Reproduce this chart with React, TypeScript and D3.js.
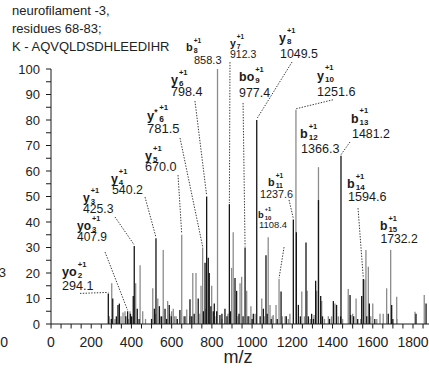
import React from "react";
import * as d3 from "d3";

const titleLines = ["neurofilament -3,", "residues 68-83;", "K - AQVQLDSDHLEEDIHR"];

// m/z , relative intensity (%)
const grayPeaks: [number, number][] = [
  [290, 3], [302, 16], [318, 2], [348, 3], [358, 4.5], [368, 5], [385, 2], [393, 5], [421, 16], [443, 23],
  [456, 5], [470, 2], [506, 14], [520, 4], [531, 10], [545, 3], [558, 29], [580, 9], [590, 4], [600, 5],
  [608, 6], [615, 3], [622, 3], [650, 35], [660, 3], [675, 5.7], [690, 3], [705, 20], [721, 20], [740, 4],
  [746, 15], [754, 30], [770, 6], [799, 15], [815, 3], [828, 100], [850, 2], [880, 4], [898, 22], [906, 36],
  [930, 3], [940, 16], [948, 18.5], [973, 13], [985, 3], [994, 7], [1015, 4], [1048, 10], [1060, 3], [1080, 34],
  [1089, 7.5], [1100, 3], [1105, 3.5], [1119, 7.5], [1134, 17.6], [1150, 3], [1164, 3], [1180, 2], [1188, 4], [1218, 84],
  [1247, 12.7], [1260, 3], [1274, 13], [1290, 2], [1308, 3.5], [1321, 13], [1330, 61.5], [1346, 9], [1360, 2], [1379, 3],
  [1395, 3], [1412, 8], [1429, 3], [1450, 2], [1478, 13.7], [1500, 4], [1517, 10], [1540, 2], [1561, 17.5], [1566, 29],
  [1578, 22.5], [1590, 3], [1600, 8], [1620, 2], [1636, 4], [1652, 4], [1669, 14], [1689, 29], [1719, 10.7], [1720, 2],
  [1810, 4.8], [1856, 11.4],
];

const blackPeaks: [number, number][] = [
  [285, 12], [300, 2], [307, 10], [325, 3], [333, 7.5], [340, 8], [372, 3], [381, 5], [395, 4], [401, 3],
  [409, 11], [414, 30.6], [429, 6], [438, 2], [500, 2], [514, 6], [522, 33.6], [539, 7], [550, 3], [567, 6],
  [575, 2], [588, 7.5], [598, 3], [628, 2], [641, 5.5], [666, 3], [691, 9.7], [700, 3], [712, 4], [732, 10],
  [758, 5], [766, 24], [774, 50], [782, 26], [787, 20], [795, 7], [807, 5], [812, 8], [824, 5], [840, 3.5],
  [850, 4], [865, 6], [875, 3], [887, 47], [892, 5], [915, 18], [923, 13], [935, 4], [955, 3], [965, 30],
  [980, 3], [1000, 2], [1006, 4], [1023, 80], [1040, 3], [1056, 6], [1069, 27], [1075, 4], [1095, 2], [1125, 2],
  [1144, 12.7], [1170, 3], [1205, 41], [1220, 36], [1230, 7.5], [1240, 3], [1268, 32], [1280, 3], [1296, 4], [1305, 2],
  [1316, 17], [1330, 48.6], [1341, 11], [1350, 3], [1385, 2], [1404, 9], [1420, 7.5], [1440, 3], [1442, 66], [1487, 11.4],
  [1490, 3.5], [1505, 3], [1525, 2], [1545, 11], [1553, 17.6], [1570, 3], [1583, 8], [1610, 2], [1677, 4], [1694, 7.5],
  [1700, 2], [1815, 4], [1865, 8],
];

// annotated fragment ions: name, subscript, charge, printed m/z, peak it points at
const ionNames = ["b", "y", "bo", "y", "y", "b", "b", "b", "b", "b", "b", "y", "y*", "y", "y", "y", "yo", "yo"];
const ionIndex = ["8", "7", "9", "8", "10", "12", "13", "14", "15", "11", "10", "6", "6", "5", "4", "3", "3", "2"];
const ionLabels = ["858.3", "912.3", "977.4", "1049.5", "1251.6", "1366.3", "1481.2", "1594.6", "1732.2", "1237.6",
  "1108.4", "798.4", "781.5", "670.0", "540.2", "425.3", "407.9", "294.1"];
const ionPeakMz = [828, 887, 965, 1023, 1218, 1330, 1442, 1553, 1689, 1205, 1134, 774, 754, 650, 522, 414, 381, 285];
const ionPeakRel = [100, 47, 30, 80, 84, 61.5, 66, 17.6, 29, 41, 17.6, 50, 30, 35, 33.6, 30.6, 5, 12];
const ionCharge = "+1";

// label placement, relative to the peak top (px)
const ionLayout = [
  { dx: -31.5, dy: -18, vdx: 8, vdy: 13, fs: 11 },
  { dx: 0.6, dy: -157, vdx: 0, vdy: 10.5, fs: 10.5, lead: [0.6, -142] },
  { dx: -6, dy: -166.5, vdx: 0, vdy: 16, fs: 12.4, lead: [-2, -144.5] },
  { dx: 22.3, dy: -78, vdx: 1, vdy: 16, fs: 12.4, lead: [35.3, -58] },
  { dx: 21, dy: -30, vdx: 0, vdy: 16, fs: 12.6, lead: [37, -10] },
  { dx: -18.5, dy: -29, vdx: 1, vdy: 15, fs: 12.6 },
  { dx: 10, dy: -33, vdx: 1, vdy: 15, fs: 12.4, lead: [9, -13.7] },
  { dx: -16.3, dy: -91, vdx: 1, vdy: 13, fs: 12.6, lead: [-5.3, -71] },
  { dx: -10.7, dy: -20, vdx: 0.5, vdy: 13, fs: 12.2 },
  { dx: -25.3, dy: -33.5, vdx: -8, vdy: 12, fs: 10.8, lead: [-4.3, -19.5] },
  { dx: -21, dy: -61, vdx: 1, vdy: 10, fs: 9.4, lead: [5, -32] },
  { dx: -35.7, dy: -112.5, vdx: 0, vdy: 12, fs: 12.6, lead: [-11.7, -95.5] },
  { dx: -55.6, dy: -127.5, vdx: 0, vdy: 13, fs: 13, lead: [-22.6, -109.5] },
  { dx: -36.7, dy: -74.7, vdx: 0, vdy: 11, fs: 12.6, lead: [-3.7, -59.7] },
  { dx: -45, dy: -55.3, vdx: 1, vdy: 11, fs: 12.4, lead: [-11, -41.3] },
  { dx: -51.3, dy: -44, vdx: 0, vdy: 11, fs: 12.2, lead: [-19.3, -29] },
  { dx: -50.6, dy: -81.2, vdx: 0, vdy: 11, fs: 12, lead: [-22.6, -59.2] },
  { dx: -46.3, dy: -17.4, vdx: 0, vdy: 14, fs: 12.6, lead: [-28.3, 0] },
];

const xTicks = d3.range(0, 1801, 200);
const xMinor = d3.range(0, 1851, 50);
const yTicks = d3.range(0, 101, 10);
const yMinor = d3.range(0, 101, 5);

const font = "Arial, 'Liberation Sans', Helvetica, sans-serif";
const boldEm: Record<string, number> = { b: 0.611, o: 0.611, y: 0.556 };

export default function App() {
  const W = 429, H = 368;
  const x = d3.scaleLinear().domain([0, 1900]).range([51, 433.1]);
  const y = d3.scaleLinear().domain([0, 100]).range([324, 69]);
  const ink = "#1a1a1a";

  const peak = (p: [number, number], color: string, key: string) => (
    <line key={key} x1={x(p[0])} x2={x(p[0])} y1={y(0)} y2={y(p[1])} stroke={color} strokeWidth={1.3} />
  );

  return (
    <svg width={W} height={H} style={{ position: "absolute", left: 0, top: 0, background: "#fff" }}
      fontFamily={font}>
      {/* title */}
      {titleLines.map((t, i) => (
        <text key={t} x={12} y={15 + i * 18} fontSize={13} fill="#222">{t}</text>
      ))}

      {/* cut-off neighbour panel */}
      <text x={6} y={277} fontSize={13} textAnchor="end" fill="#222">3</text>
      <text x={8} y={347} fontSize={14} textAnchor="end" fill="#222">0</text>

      {/* peaks */}
      <g>{grayPeaks.map((p, i) => peak(p, "#8c8c8c", "g" + i))}</g>
      <g>{blackPeaks.map((p, i) => peak(p, "#151515", "b" + i))}</g>

      {/* y axis */}
      <g stroke={ink} strokeWidth={1}>
        <line x1={x(0)} x2={x(0)} y1={y(0)} y2={y(100)} />
        {yMinor.map(v => <line key={v} x1={x(0) - 5} x2={x(0)} y1={y(v)} y2={y(v)} />)}
      </g>
      {yTicks.map(v => (
        <text key={v} x={40} y={y(v)} dy="0.36em" textAnchor="end" fontSize={13} fill="#222">{v}</text>
      ))}

      {/* x axis */}
      <g stroke={ink} strokeWidth={1}>
        <line x1={x(0)} x2={W} y1={y(0)} y2={y(0)} />
        {xMinor.map(v => <line key={v} x1={x(v)} x2={x(v)} y1={y(0)} y2={y(0) + 4.5} />)}
      </g>
      {xTicks.map(v => (
        <text key={v} x={x(v)} y={347} textAnchor="middle" fontSize={14} fill="#222">{v}</text>
      ))}
      <text x={238} y={363} textAnchor="middle" fontSize={18} fill="#222">m/z</text>

      {/* ion annotations */}
      {ionNames.map((name, i) => {
        const L = ionLayout[i];
        const px = x(ionPeakMz[i]), py = y(ionPeakRel[i]);
        const nx = px + L.dx, ny = py + L.dy;
        const fs = L.fs;
        const star = name.endsWith("*");
        const base = star ? name.slice(0, -1) : name;
        let w = 0;
        for (const c of base) w += (boldEm[c] || 0.6) * fs;
        if (star) w += fs * 0.3;
        const sx = nx + w + 1;
        return (
          <g key={i} fill="#1a1a1a">
            {L.lead && (
              <line x1={px + L.lead[0]} y1={py + L.lead[1]} x2={px} y2={py - 1}
                stroke="#222" strokeWidth={0.9} strokeDasharray="1.4 1.4" />
            )}
            <text x={nx} y={ny} fontSize={fs} fontWeight="bold">
              {base}
              {star && <tspan fontSize={fs * 0.65} dy={-fs * 0.4}>*</tspan>}
            </text>
            <text x={sx} y={ny - fs * 0.75} fontSize={fs * 0.6} fontWeight="bold">{ionCharge}</text>
            <text x={sx} y={ny + fs * 0.18} fontSize={fs * 0.64} fontWeight="bold">{ionIndex[i]}</text>
            <text x={nx + L.vdx} y={ny + L.vdy} fontSize={fs}>{ionLabels[i]}</text>
          </g>
        );
      })}
    </svg>
  );
}
